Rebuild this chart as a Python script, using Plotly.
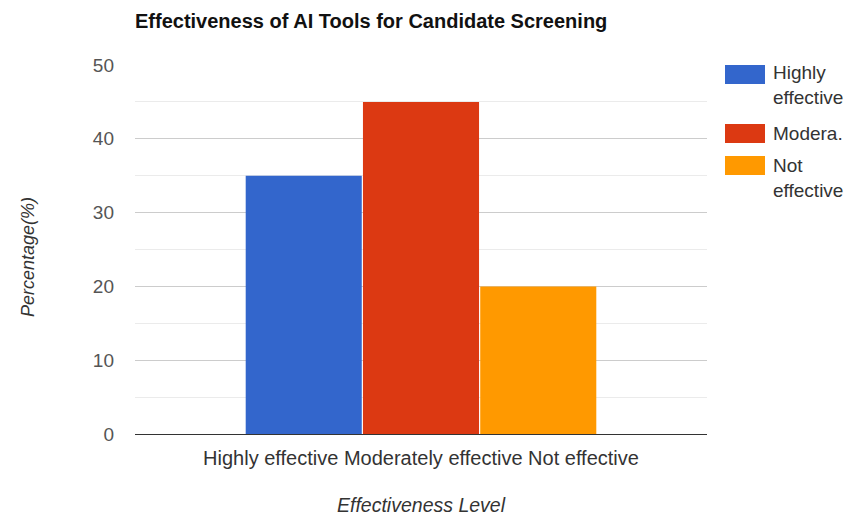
import plotly.graph_objects as go

# Survey results: share of respondents per effectiveness rating
category = "Highly effective Moderately effective Not effective"
series_names = ["Highly effective", "Moderately effective", "Not effective"]
legend_labels = ["Highly<br>effective", "Modera.", "Not<br>effective"]
values = [35, 45, 20]
colors = ["#3366cc", "#dc3912", "#ff9900"]
y_ticks = [0, 10, 20, 30, 40, 50]

W, H = 847, 519
L, R, T, B = 135, 140, 65, 85
FONT = "Arial, Liberation Sans, sans-serif"

fig = go.Figure()
for name, val, col in zip(series_names, values, colors):
    fig.add_trace(go.Bar(
        x=[category], y=[val], name=name,
        marker=dict(color=col, line=dict(width=0)),
        showlegend=False,
    ))

def px_x(px):
    return (px - L) / (W - L - R)

def px_y(py):
    return (H - B - py) / (H - T - B)

# Legend drawn as swatches with wrapped labels on the right
swatch_tops = [65, 124, 156]
text_tops = [60, 121, 153]
for top, ttop, col, lab in zip(swatch_tops, text_tops, colors, legend_labels):
    fig.add_shape(type="rect", xref="paper", yref="paper",
                  x0=px_x(725), x1=px_x(765), y0=px_y(top), y1=px_y(top + 19),
                  fillcolor=col, line=dict(width=0))
    fig.add_annotation(xref="paper", yref="paper", x=px_x(771), y=px_y(ttop),
                       xanchor="left", yanchor="top", text=lab, showarrow=False,
                       align="left", font=dict(family=FONT, size=19, color="#333"))

# Axis titles
fig.add_annotation(xref="paper", yref="paper", x=px_x(28), y=px_y(257),
                   xanchor="center", yanchor="middle", textangle=-90,
                   text="<i>Percentage(%)</i>", showarrow=False,
                   font=dict(family=FONT, size=18, color="#333"))
fig.add_annotation(xref="paper", yref="paper", x=px_x(421), y=px_y(505),
                   xanchor="center", yanchor="middle",
                   text="<i>Effectiveness Level</i>", showarrow=False,
                   font=dict(family=FONT, size=19.5, color="#333"))

fig.update_layout(
    width=W, height=H,
    margin=dict(l=L, r=R, t=T, b=B, autoexpand=False),
    paper_bgcolor="white", plot_bgcolor="white",
    barmode="group", bargap=0.385, bargroupgap=0.01,
    font=dict(family=FONT, size=19, color="#444"),
    title=dict(text="<b>Effectiveness of AI Tools for Candidate Screening</b>",
               x=L / W, xanchor="left",
               y=1 - 21 / H, yanchor="middle",
               font=dict(family=FONT, size=20, color="#111")),
    xaxis=dict(
        showgrid=False, showline=True, linecolor="#333", linewidth=1,
        automargin=False, ticklabelstandoff=6,
        tickfont=dict(family=FONT, size=20, color="#333"),
    ),
    yaxis=dict(
        range=[0, 50], tickvals=y_ticks, showgrid=True,
        gridcolor="#cccccc", gridwidth=1,
        minor=dict(dtick=5, showgrid=True, gridcolor="#ebebeb", gridwidth=1),
        zeroline=True, zerolinecolor="#333", zerolinewidth=1,
        automargin=False, ticklabelstandoff=20,
        tickfont=dict(family=FONT, size=19, color="#555"),
    ),
)

fig.write_html("out.html")
